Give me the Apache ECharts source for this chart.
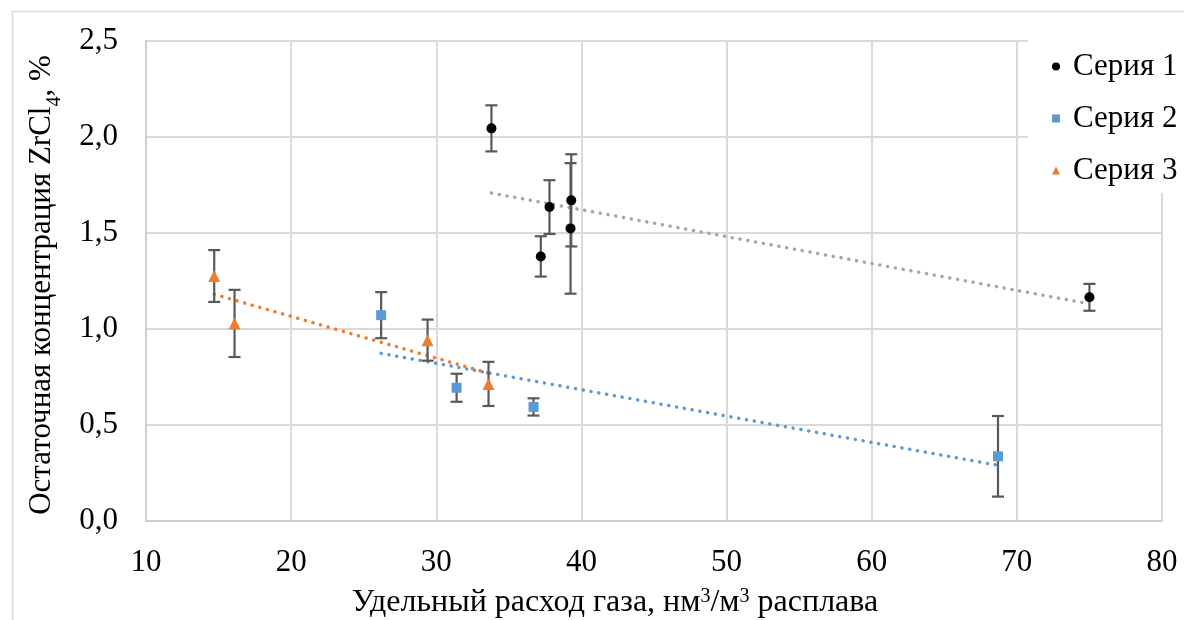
<!DOCTYPE html>
<html>
<head>
<meta charset="utf-8">
<script src="https://cdn.jsdelivr.net/npm/echarts@6/dist/echarts.min.js"></script>
<style>html,body{margin:0;padding:0;background:#fff;}#c{width:1184px;height:620px;}</style>
</head>
<body>
<div id="c"></div>
<script>
// Series 1
var s1x = [33.8, 37.8, 39.3, 39.25, 37.2, 75.0];
var s1y = [2.045, 1.635, 1.67, 1.524, 1.378, 1.165];
var s1err = [0.12, 0.14, 0.24, 0.34, 0.105, 0.07];
// Series 2
var s2x = [26.2, 31.4, 36.7, 68.7];
var s2y = [1.072, 0.694, 0.594, 0.337];
var s2err = [0.12, 0.073, 0.045, 0.21];
// Series 3
var s3x = [14.7, 16.1, 29.4, 33.6];
var s3y = [1.276, 1.029, 0.942, 0.714];
var s3err = [0.135, 0.175, 0.107, 0.115];
// Linear trendlines (end points)
var t1 = [[33.8, 1.708], [75.0, 1.131]];
var t2 = [[26.2, 0.873], [68.7, 0.29]];
var t3 = [[14.7, 1.181], [33.6, 0.77]];
var seriesNames = ['Серия 1', 'Серия 2', 'Серия 3'];
var xTicks = {min: 10, max: 80, interval: 10};
var yTicks = {min: 0, max: 2.5, interval: 0.5};

var FONT = "'Liberation Serif', 'DejaVu Serif', serif";
var colors = ['#000000', '#5B9BD5', '#ED7D31'];
var trendColors = ['#A5A5A5', '#5B9BD5', '#ED7D31'];

function pts(xs, ys) { return xs.map(function (x, i) { return [x, ys[i]]; }); }
function errData(xs, ys, es) { return xs.map(function (x, i) { return [x, ys[i] - es[i], ys[i] + es[i]]; }); }

function errRender(params, api) {
  var x = api.value(0), lo = api.value(1), hi = api.value(2);
  var pl = api.coord([x, lo]), ph = api.coord([x, hi]);
  var w = 6;
  var st = {stroke: '#595959', lineWidth: 2.2, fill: null};
  return {
    type: 'group',
    children: [
      {type: 'line', shape: {x1: pl[0], y1: pl[1], x2: ph[0], y2: ph[1]}, style: st},
      {type: 'line', shape: {x1: pl[0] - w, y1: pl[1], x2: pl[0] + w, y2: pl[1]}, style: st},
      {type: 'line', shape: {x1: ph[0] - w, y1: ph[1], x2: ph[0] + w, y2: ph[1]}, style: st}
    ]
  };
}

var xs = [s1x, s2x, s3x], ys = [s1y, s2y, s3y], es = [s1err, s2err, s3err], ts = [t1, t2, t3];
var symbols = ['circle', 'rect', 'triangle'];
var sizes = [10, 10, 12];
var series = [];
for (var k = 0; k < 3; k++) {
  series.push({
    name: 'trend' + (k + 1), type: 'line', data: ts[k], symbol: 'none', z: 2, silent: true,
    lineStyle: {color: trendColors[k], width: 3.5, type: [0.1, 7.8], cap: 'round'}
  });
  series.push({
    name: 'err' + (k + 1), type: 'custom', data: errData(xs[k], ys[k], es[k]), z: 3, silent: true,
    renderItem: errRender, encode: {x: 0, y: [1, 2]}
  });
}
for (var k2 = 0; k2 < 3; k2++) {
  series.push({
    name: seriesNames[k2], type: 'scatter', data: pts(xs[k2], ys[k2]), z: 4,
    symbol: symbols[k2], symbolSize: sizes[k2], itemStyle: {color: colors[k2], opacity: 1}
  });
}

var chart = echarts.init(document.getElementById('c'), null, {renderer: 'canvas'});
chart.setOption({
  animation: false,
  backgroundColor: '#fff',
  grid: {left: 146, right: 22, top: 41, bottom: 99, containLabel: false},
  xAxis: {
    type: 'value', min: xTicks.min, max: xTicks.max, interval: xTicks.interval,
    axisLine: {show: true, lineStyle: {color: '#cfcfcf', width: 2}},
    axisTick: {show: false},
    splitLine: {show: true, lineStyle: {color: '#d9d9d9', width: 2}},
    axisLabel: {fontFamily: FONT, fontSize: 31, color: '#000', margin: 26}
  },
  yAxis: {
    type: 'value', min: yTicks.min, max: yTicks.max, interval: yTicks.interval,
    axisLine: {show: true, lineStyle: {color: '#cfcfcf', width: 2}},
    axisTick: {show: false},
    splitLine: {show: true, lineStyle: {color: '#d9d9d9', width: 2}},
    axisLabel: {fontFamily: FONT, fontSize: 31, color: '#000', margin: 28,
      formatter: function (v) { return v.toFixed(1).replace('.', ','); }}
  },
  legend: {
    data: seriesNames, orient: 'vertical', left: 1028, top: 35,
    padding: [16, 40, 7, 24], itemGap: 21, itemWidth: 8, itemHeight: 8,
    backgroundColor: '#fff',
    textStyle: {fontFamily: FONT, fontSize: 31, color: '#000', padding: [0, 0, 0, 8]}
  },
  graphic: [
    {type: 'rect', left: 10, top: 9, shape: {x: 0, y: 0, width: 1300, height: 800},
      style: {fill: null, stroke: '#d9d9d9', lineWidth: 1.5}, z: -1, silent: true},
    {type: 'text', x: 615, y: 603,
      style: {
        text: 'Удельный расход газа, нм{sup|3}/м{sup|3} расплава',
        font: '32px ' + FONT, fill: '#000',
        align: 'center', verticalAlign: 'middle', textAlign: 'center', textVerticalAlign: 'middle',
        rich: {sup: {fontSize: 20, fontFamily: FONT, verticalAlign: 'top', fill: '#000'}}
      }},
    {type: 'text', x: 42, y: 285, rotation: Math.PI / 2,
      style: {
        text: 'Остаточная концентрация ZrCl{sub|4}, %',
        font: '31px ' + FONT, fill: '#000',
        align: 'center', verticalAlign: 'middle', textAlign: 'center', textVerticalAlign: 'middle',
        rich: {sub: {fontSize: 20, fontFamily: FONT, verticalAlign: 'bottom', fill: '#000', padding: [0, 0, -7, 0]}}
      }}
  ],
  series: series
});
</script>
</body>
</html>
